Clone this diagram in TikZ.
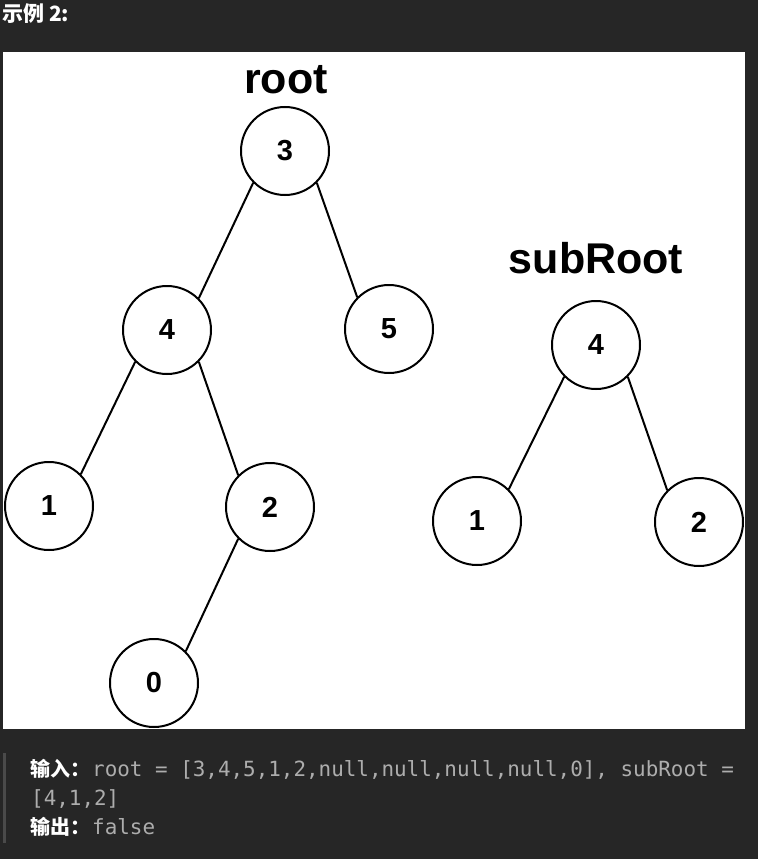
\documentclass[tikz,border=0pt]{standalone}
\usepackage{fontspec}
\newfontfamily\arialf{Liberation Sans}
\newfontfamily\cjkf{Noto Sans CJK SC}
\newfontfamily\monof{DejaVu Sans Mono}
\definecolor{bgdark}{HTML}{262626}
\definecolor{codegray}{HTML}{ADADAD}
\definecolor{bargray}{HTML}{4A4A4A}
\tikzset{
  tnode/.style={circle,draw=black,line width=2pt,fill=white,minimum size=88pt,inner sep=0pt,
    font=\arialf\bfseries\fontsize{29}{29}\selectfont},
  edge/.style={line width=2pt,draw=black},
  tlabel/.style={anchor=base,inner sep=0pt,font=\arialf\bfseries\fontsize{43}{43}\selectfont},
  cjklabel/.style={anchor=base west,inner sep=0pt,text=white,font=\cjkf\bfseries\fontsize{20}{20}\selectfont},
  codetext/.style={anchor=base west,inner sep=0pt,text=codegray,font=\monof\fontsize{20.9}{20.9}\selectfont}
}
\begin{document}
\begin{tikzpicture}[x=1pt,y=-1pt]
\fill[bgdark] (0,0) rectangle (758,859);
\useasboundingbox (0,0) rectangle (758,859);
\fill[white] (3,52) rectangle (745,729);
% title
\node[anchor=base west,inner sep=0pt,text=white,font=\cjkf\bfseries\fontsize{21}{21}\selectfont] (title) at (2,22) {示例 2:};
% labels
\node[tlabel] (lroot) at (286,93) {root};
\node[tlabel] (lsub) at (596,273) {subRoot};
% root tree
\node[tnode] (r3) at (285,151) {3};
\node[tnode] (r4) at (167,330) {4};
\node[tnode] (r5) at (389,329) {5};
\node[tnode] (r1) at (49,506) {1};
\node[tnode] (r2) at (270,507) {2};
\node[tnode] (r0) at (154,683) {0};
% subRoot tree
\node[tnode] (s4) at (596,345) {4};
\node[tnode] (s1) at (477,521) {1};
\node[tnode] (s2) at (699,522) {2};
% edges
\draw[edge] (r3.225) -- (r4.45);
\draw[edge] (r3.315) -- (r5.135);
\draw[edge] (r4.225) -- (r1.45);
\draw[edge] (r4.315) -- (r2.135);
\draw[edge] (r2.225) -- (r0.45);
\draw[edge] (s4.225) -- (s1.45);
\draw[edge] (s4.315) -- (s2.135);
% bottom text
\fill[bargray] (3,753) rectangle (6,843);
\node[cjklabel] (in) at (30,776) {输入：};
\node[codetext] (incode) at (92,776) {root = [3,4,5,1,2,null,null,null,null,0], subRoot =};
\node[codetext] (incode2) at (31,805) {[4,1,2]};
\node[cjklabel] (out) at (30,834) {输出：};
\node[codetext] (outcode) at (92,834) {false};
\end{tikzpicture}
\end{document}
